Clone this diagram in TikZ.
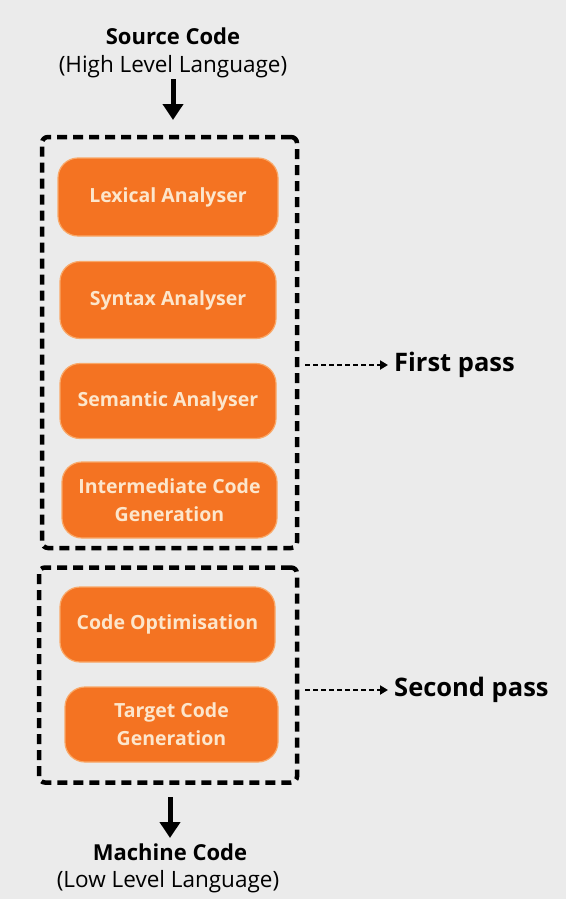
\documentclass[tikz,border=0pt]{standalone}
\usepackage{fontspec}
\setmainfont{Open Sans}
\usetikzlibrary{arrows.meta}
\definecolor{bg}{HTML}{EBEBEB}
\definecolor{org}{HTML}{F47322}
\definecolor{cream}{HTML}{FCE6CC}
\definecolor{orgedge}{HTML}{F9A868}
\tikzset{
  obox/.style={fill=org, draw=orgedge, line width=1.2pt, rounded corners=20pt, text=cream,
    font=\fontsize{19.5}{28}\selectfont\bfseries, align=center, inner sep=0pt},
  dbox/.style={draw=black, line width=4.5pt, dash pattern=on 10pt off 6pt, rounded corners=6pt, inner sep=0pt},
  bigarrow/.style={line width=5pt, -{Triangle[width=20pt,length=16pt]}},
  passarrow/.style={line width=2.2pt, dash pattern=on 5pt off 3pt, -{Triangle[width=9pt,length=8pt]}},
  title/.style={font=\fontsize{22}{26}\selectfont\bfseries, inner sep=0pt},
  sub/.style={font=\fontsize{22.5}{27}\selectfont, inner sep=0pt},
  passlbl/.style={font=\fontsize{25.5}{30}\selectfont\bfseries, inner sep=0pt, anchor=west},
}
\begin{document}
\begin{tikzpicture}[x=1pt,y=-1pt]
\fill[bg] (0,0) rectangle (566,899);
\useasboundingbox (0,0) rectangle (566,899);

\node[title] (src) at (173,36) {Source Code};
\node[sub] (hll) at (173,67) {(High Level Language)};

\node[dbox, minimum width=255, minimum height=411] (box1) at (169.5,342.5) {};
\node[dbox, minimum width=258, minimum height=215] (box2) at (168,675) {};

\node[obox, minimum width=220, minimum height=78] (lex) at (168,197) {Lexical Analyser};
\node[obox, minimum width=216, minimum height=77] (syn) at (168,300) {Syntax Analyser};
\node[obox, minimum width=216, minimum height=75] (sem) at (168,401) {Semantic Analyser};
\node[obox, minimum width=215, minimum height=76] (int) at (169.5,500) {Intermediate Code\\Generation};
\node[obox, minimum width=215, minimum height=75] (opt) at (167.5,624.5) {Code Optimisation};
\node[obox, minimum width=213, minimum height=75] (tgt) at (171.5,724.5) {Target Code\\Generation};

\node[title] (mc) at (170,852) {Machine Code};
\node[sub] (lll) at (168,882) {(Low Level Language)};

\node[passlbl] (fp) at (394,365) {First pass};
\node[passlbl] (sp) at (394,690) {Second pass};

\coordinate (a1s) at (173,79);
\coordinate (a1e) at (173,120);
\coordinate (a2s) at (170,797);
\coordinate (a2e) at (170,838);
\coordinate (p1s) at (305,365);
\coordinate (p2s) at (305,690);

\draw[bigarrow] (a1s) -- (a1e);
\draw[bigarrow] (a2s) -- (a2e);
\draw[passarrow] (p1s) -- ([xshift=-6pt]fp.west);
\draw[passarrow] (p2s) -- ([xshift=-6pt]sp.west);
\end{tikzpicture}
\end{document}
